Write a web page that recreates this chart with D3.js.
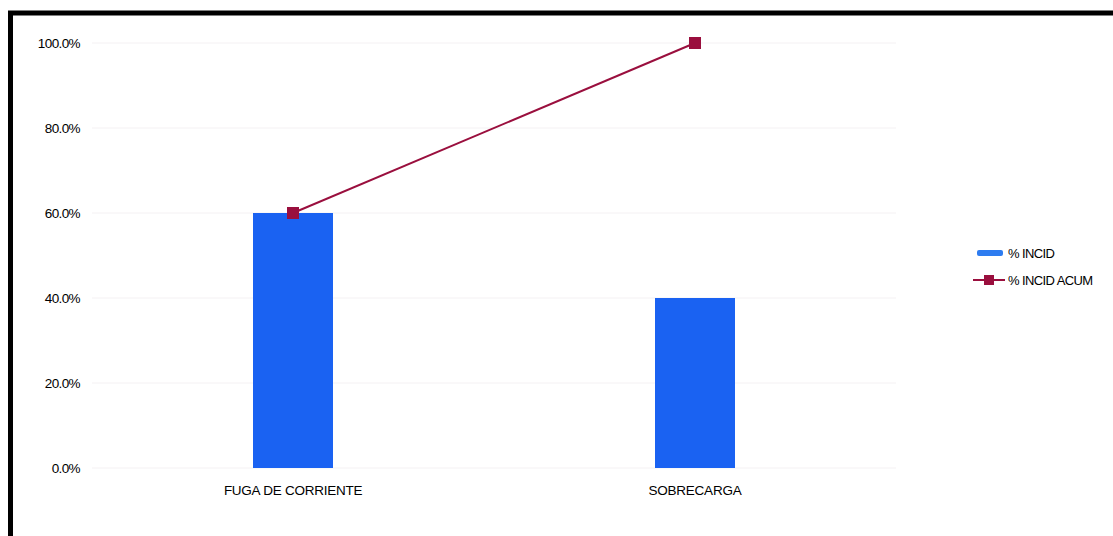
<!DOCTYPE html>
<html><head><meta charset="utf-8">
<script src="https://cdn.jsdelivr.net/npm/d3@7"></script>
<style>
html,body{margin:0;padding:0;background:#fff;}
svg{display:block;font-family:"Liberation Sans",Arial,sans-serif;}
</style></head>
<body>
<svg id="c" width="1113" height="536"></svg>
<script>
const categories = ["FUGA DE CORRIENTE", "SOBRECARGA"];
const incid = [0.60, 0.40];
const incidAcum = [0.60, 1.00];
const yTicks = [0, 0.2, 0.4, 0.6, 0.8, 1.0];
const seriesNames = ["% INCID", "% INCID ACUM"];

const svg = d3.select("#c");
const barColor = "#1a62f2", lineColor = "#9a0f3e";
const fontCss = "Liberation Sans, Arial, sans-serif";

// frame
svg.append("path").attr("d","M10.5,536 L10.5,13 L1113,13")
  .attr("fill","none").attr("stroke","#000").attr("stroke-width",5);

const x = d3.scaleBand().domain(categories).range([92, 896]);
const y = d3.scaleLinear().domain([0,1]).range([468, 43]);

// gridlines
svg.append("g").selectAll("line").data(yTicks).join("line")
  .attr("x1",92).attr("x2",896).attr("y1",d=>y(d)).attr("y2",d=>y(d))
  .attr("stroke","#f4f1f3").attr("stroke-width",1);

// y axis
const yAxis = svg.append("g").attr("transform","translate(88,0)")
  .call(d3.axisLeft(y).tickValues(yTicks).tickFormat(d3.format(".1%")).tickSize(0).tickPadding(8));
yAxis.select(".domain").remove();
yAxis.selectAll("text").attr("font-size",13.5).attr("fill","#000").attr("font-family",fontCss).attr("letter-spacing","-0.6");

// x axis
const xAxis = svg.append("g").attr("transform","translate(0,468)")
  .call(d3.axisBottom(x).tickSize(0).tickPadding(17));
xAxis.select(".domain").remove();
xAxis.selectAll("text").attr("font-size",13.5).attr("fill","#000").attr("font-family",fontCss).attr("letter-spacing","-0.25");

// bars
const bw = 80;
svg.append("g").selectAll("rect").data(categories).join("rect")
  .attr("x",(d)=>x(d)+x.bandwidth()/2-bw/2).attr("width",bw)
  .attr("y",(d,i)=>y(incid[i])).attr("height",(d,i)=>y(0)-y(incid[i]))
  .attr("fill",barColor);

// line
const line = d3.line().x((d,i)=>x(categories[i])+x.bandwidth()/2).y(d=>y(d));
svg.append("path").datum(incidAcum).attr("d",line)
  .attr("fill","none").attr("stroke",lineColor).attr("stroke-width",2);
svg.append("g").selectAll("rect").data(incidAcum).join("rect")
  .attr("x",(d,i)=>x(categories[i])+x.bandwidth()/2-6)
  .attr("y",d=>y(d)-6).attr("width",12).attr("height",12)
  .attr("fill",lineColor);

// legend
const lg = svg.append("g");
lg.append("rect").attr("x",977).attr("y",250).attr("width",26).attr("height",6).attr("rx",2).attr("fill","#2e7cf0");
lg.append("text").attr("x",1008).attr("y",258).text(seriesNames[0])
  .attr("font-size",13).attr("fill","#000").attr("letter-spacing","-0.6");
lg.append("line").attr("x1",973).attr("x2",1005).attr("y1",280).attr("y2",280)
  .attr("stroke",lineColor).attr("stroke-width",2);
lg.append("rect").attr("x",984).attr("y",275).attr("width",10).attr("height",10).attr("fill",lineColor);
lg.append("text").attr("x",1008).attr("y",285).text(seriesNames[1])
  .attr("font-size",13).attr("fill","#000").attr("letter-spacing","-0.6");
</script>
</body></html>
